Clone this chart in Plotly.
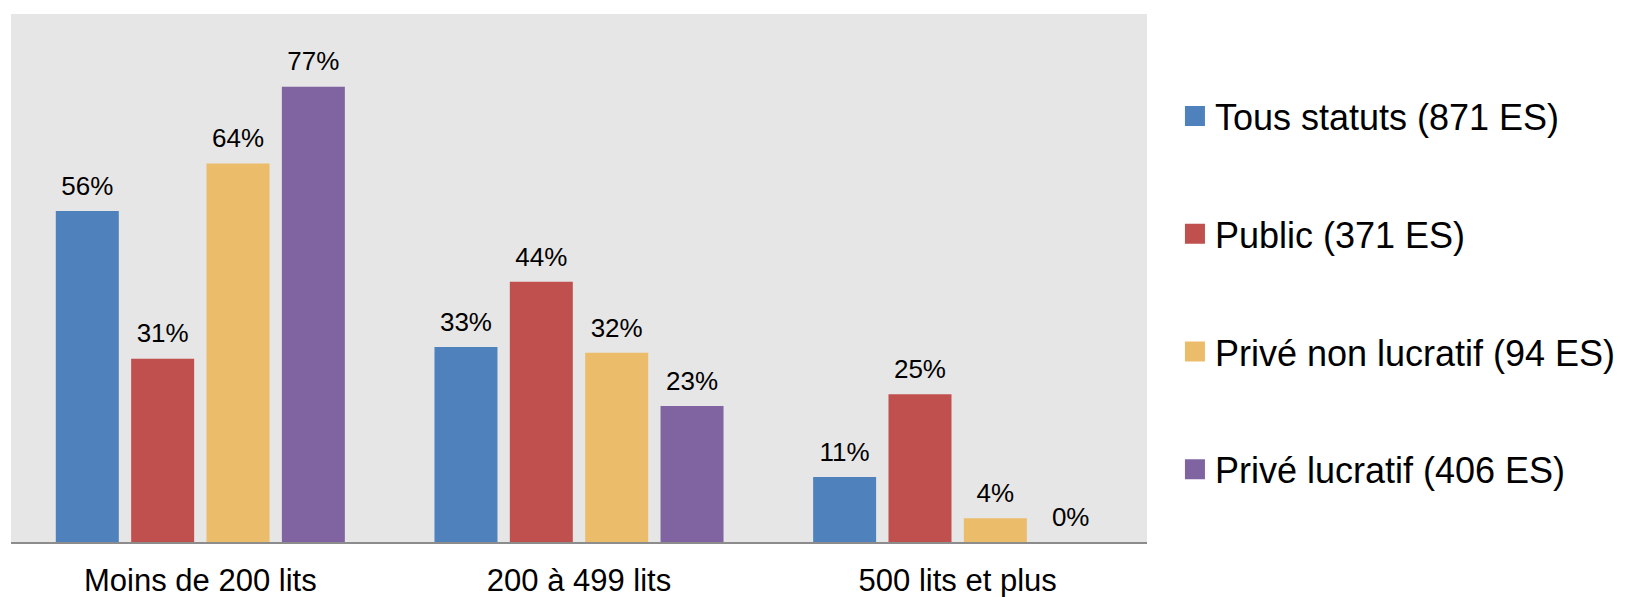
import plotly.graph_objects as go

categories = ["Moins de 200 lits", "200 à 499 lits", "500 lits et plus"]
series_names = ["Tous statuts (871 ES)", "Public (371 ES)", "Privé non lucratif (94 ES)", "Privé lucratif (406 ES)"]
tous_statuts = [56, 33, 11]
public = [31, 44, 25]
prive_non_lucratif = [64, 32, 4]
prive_lucratif = [77, 23, 0]

colors = ["#4F81BD", "#C0504D", "#EBBC6A", "#8064A2"]
series_values = [tous_statuts, public, prive_non_lucratif, prive_lucratif]

FONT = "Arial, Liberation Sans, sans-serif"

fig = go.Figure()
# bars
for i, (name, vals, col) in enumerate(zip(series_names, series_values, colors)):
    fig.add_trace(go.Bar(
        x=categories, y=vals, name=name,
        marker=dict(color=col, line=dict(width=0)),
        offsetgroup=str(i),
        showlegend=False,
        hoverinfo="skip",
    ))
# value labels, grouped like the bars
for i, (name, vals, col) in enumerate(zip(series_names, series_values, colors)):
    fig.add_trace(go.Scatter(
        x=categories, y=vals, mode="markers+text",
        text=[f"{v}%" for v in vals],
        textposition="top center",
        textfont=dict(family=FONT, size=26, color="#000000"),
        marker=dict(size=14, color="rgba(0,0,0,0)"),
        offsetgroup=str(i),
        showlegend=False,
        cliponaxis=False,
        hoverinfo="skip",
    ))
# legend entries
for i, (name, col) in enumerate(zip(series_names, colors)):
    fig.add_trace(go.Scatter(
        x=[None], y=[None], mode="markers", name=name,
        marker=dict(symbol="square", size=16, color=col, line=dict(width=4, color=col)),
        offsetgroup=str(i),
        legendgroup=f"g{i}",
        showlegend=True,
    ))

fig.update_layout(
    width=1633, height=597,
    margin=dict(l=11, r=486, t=14, b=55),
    paper_bgcolor="#FFFFFF",
    plot_bgcolor="#E6E6E6",
    barmode="group",
    bargap=0.204,
    bargroupgap=0.164,
    scattermode="group",
    scattergap=0.204,
    font=dict(family=FONT, color="#000000"),
    showlegend=True,
    legend=dict(
        x=1.0246, xanchor="left", xref="paper",
        y=0.8636, yanchor="top", yref="paper",
        font=dict(family=FONT, size=36, color="#000000"),
        traceorder="grouped",
        tracegroupgap=68,
        bgcolor="rgba(0,0,0,0)",
        itemclick=False,
    ),
    xaxis=dict(
        showline=True, linecolor="#8C8C8C", linewidth=2,
        showgrid=False, zeroline=False, ticks="",
        tickfont=dict(family=FONT, size=31, color="#000000"),
        ticklabelstandoff=10,
        automargin=False,
    ),
    yaxis=dict(
        range=[0, 89.3], visible=False, showgrid=False, zeroline=False,
        automargin=False,
    ),
)

fig.write_html("out.html")
